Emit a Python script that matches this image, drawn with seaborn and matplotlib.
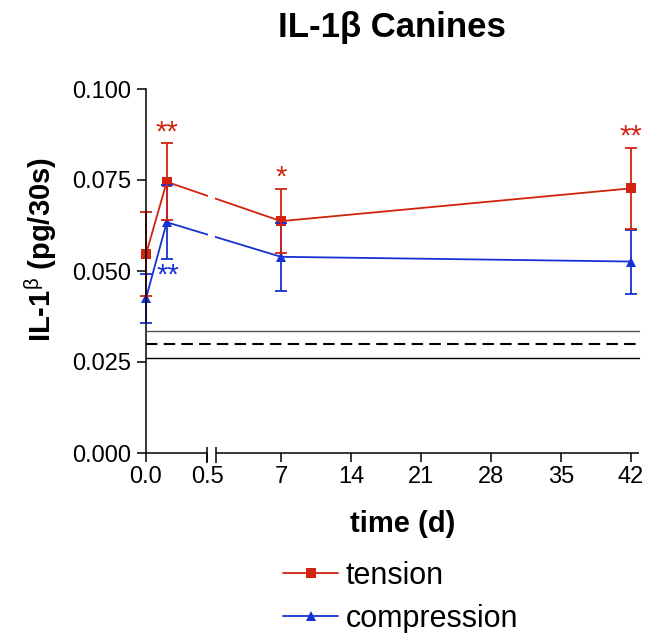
import numpy as np
import pandas as pd
import matplotlib
matplotlib.use("Agg")
import matplotlib.pyplot as plt
import seaborn as sns
from matplotlib.patches import Rectangle

# Sampling times (days) and group means / SEM of IL-1beta in GCF
days = [0.0, 0.17, 7.0, 42.0]
tension_mean = [0.0546, 0.0745, 0.0637, 0.0727]
tension_sem = [0.0115, 0.0106, 0.0088, 0.0112]
compression_mean = [0.0425, 0.0634, 0.0539, 0.0526]
compression_sem = [0.0067, 0.0101, 0.0093, 0.0088]
tension_stars = ["", "**", "*", "**"]
compression_stars = ["", "**", "", ""]

# Control reference: mean (dashed) and band limits (solid)
control_mean = 0.0299
control_band = [0.0260, 0.0335]

x_ticks = [0.0, 0.5, 7, 14, 21, 28, 35, 42]
x_tick_labels = ["0.0", "0.5", "7", "14", "21", "28", "35", "42"]
y_ticks = [0.000, 0.025, 0.050, 0.075, 0.100]
y_tick_labels = ["0.000", "0.025", "0.050", "0.075", "0.100"]

RED = "#D2230F"
BLUE = "#1632D2"

sns.set_style("ticks")
plt.rcParams["font.family"] = ["Liberation Sans", "DejaVu Sans"]
plt.rcParams["text.color"] = "black"
plt.rcParams["axes.labelcolor"] = "black"
plt.rcParams["mathtext.fontset"] = "custom"
plt.rcParams["mathtext.rm"] = "Liberation Sans"
plt.rcParams["mathtext.it"] = "Liberation Sans"
plt.rcParams["mathtext.bf"] = "Liberation Sans:bold"

# Broken time axis: first half-day stretched, then linear in days
BREAK = 0.5
LEFT_GAIN = 12.2
RIGHT_START = 7.0
X_MAX = 42.8


def fwd(x):
    x = np.asarray(x, dtype=float)
    return np.where(x <= BREAK, x * LEFT_GAIN, x - BREAK + RIGHT_START)


def inv(u):
    u = np.asarray(u, dtype=float)
    left_end = BREAK * LEFT_GAIN
    return np.where(u <= left_end, u / LEFT_GAIN,
                    np.where(u < RIGHT_START, BREAK, u - RIGHT_START + BREAK))


df = pd.DataFrame({
    "day": days * 2,
    "value": tension_mean + compression_mean,
    "group": ["tension"] * len(days) + ["compression"] * len(days),
})

W, H = 654, 633
fig = plt.figure(figsize=(W / 100, H / 100), dpi=100)
ax = fig.add_axes([146 / W, 1 - 453 / H, 493 / W, 364 / H])
ax.set_xscale("function", functions=(fwd, inv))

# control band lines
ax.axhline(control_band[1], color="#555555", lw=1.0, zorder=3)
ax.axhline(control_band[0], color="black", lw=1.0, zorder=3)
ax.axhline(control_mean, color="black", lw=1.5, ls=(0, (5.5, 3)), zorder=3)

sns.lineplot(data=df, x="day", y="value", hue="group", style="group",
             hue_order=["tension", "compression"],
             palette={"tension": RED, "compression": BLUE},
             markers={"tension": "s", "compression": "^"}, dashes=False,
             markersize=7, markeredgewidth=0, linewidth=1.3,
             sort=False, errorbar=None, ax=ax, zorder=2)
for ln in ax.lines:
    ln.set_clip_on(False)

ax.errorbar(days, compression_mean, yerr=compression_sem, fmt="none",
            ecolor=BLUE, elinewidth=1.3, capsize=4, capthick=1.3,
            clip_on=False, zorder=2)
ax.errorbar(days, tension_mean, yerr=tension_sem, fmt="none",
            ecolor=RED, elinewidth=1.3, capsize=4, capthick=1.3,
            clip_on=False, zorder=2)

ax.set_xlim(0, X_MAX)
ax.set_ylim(0, 0.1)

# gap in the data lines at the axis break
total = float(fwd(X_MAX))
a = float(fwd(BREAK)) / total
b = RIGHT_START / total
ax.add_patch(Rectangle((a + 0.002, 0.036), b - a - 0.004, 0.064,
                       transform=ax.get_yaxis_transform(),
                       facecolor="white", edgecolor="none", zorder=2.5))

# significance marks
for d, m, s, st in zip(days, tension_mean, tension_sem, tension_stars):
    if st:
        ax.annotate(st, xy=(d, m + s), xytext=(0, 8), textcoords="offset points",
                    ha="center", va="center", color=RED, fontsize=21)
for d, m, s, st in zip(days, compression_mean, compression_sem, compression_stars):
    if st:
        ax.annotate(st, xy=(d, m - s), xytext=(1, -12), textcoords="offset points",
                    ha="center", va="center", color=BLUE, fontsize=21)

# axes styling
ax.set_xticks(x_ticks, x_tick_labels)
ax.set_yticks(y_ticks, y_tick_labels)
ax.tick_params(axis="both", length=6.5, width=1.1, labelsize=17, color="black",
               labelcolor="black")
ax.tick_params(axis="y", pad=4)
ax.tick_params(axis="x", pad=3)
for side in ("top", "right", "bottom"):
    ax.spines[side].set_visible(False)
ax.spines["left"].set_linewidth(1.1)
ax.spines["left"].set_color("black")

axis_kw = dict(transform=ax.transAxes, color="black", lw=1.1, clip_on=False,
               solid_capstyle="butt")
ax.plot([0, a], [0, 0], **axis_kw)
ax.plot([b, 1], [0, 0], **axis_kw)
for xf in (a, b):
    ax.plot([xf, xf], [-0.027, 0.017], **axis_kw)

ax.set_xlabel("time (d)", fontsize=21, fontweight="bold")
ax.xaxis.set_label_coords(0.521, -0.195)
ax.xaxis.label.set_va("center")
ax.set_ylabel(r"IL-1$^{\beta}$ (pg/30s)", fontsize=21, fontweight="bold")
ax.yaxis.set_label_coords(-0.213, 0.56)
ax.yaxis.label.set_va("center")

fig.text(392 / W, 1 - 27 / H, "IL-1β Canines", ha="center", va="center",
         fontsize=25, fontweight="bold")

handles, labels = ax.get_legend_handles_labels()
ax.get_legend().remove()
fig.legend(handles, labels, loc="upper left", bbox_to_anchor=(283 / W, 1 - 561 / H),
           frameon=False, fontsize=22, handlelength=1.8, handletextpad=0.25,
           labelspacing=0.42, borderpad=0, borderaxespad=0)

fig.savefig("out.png", dpi=100)
